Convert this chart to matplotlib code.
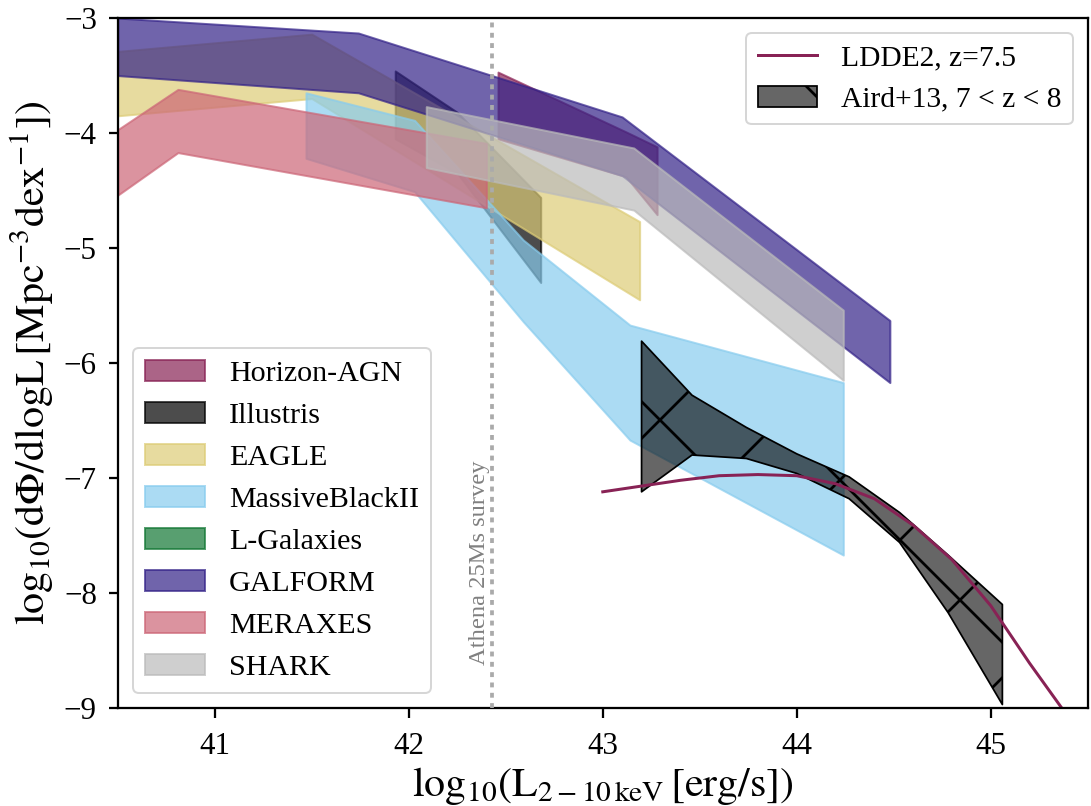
import numpy as np
import matplotlib.pyplot as plt
import matplotlib.patches as mpatches
from matplotlib.lines import Line2D

plt.rcParams['font.family'] = ['Liberation Serif', 'DejaVu Serif']
plt.rcParams['mathtext.fontset'] = 'stix'
plt.rcParams['hatch.linewidth'] = 0.55
plt.rcParams['axes.linewidth'] = 0.45

# ======== Model bands (log L, lower, upper) ========
models = ['Horizon-AGN', 'Illustris', 'EAGLE', 'MassiveBlackII',
          'L-Galaxies', 'GALFORM', 'MERAXES', 'SHARK']
colors = ['#882255', 'k', '#DDCC77', '#88CCEE',
          '#117733', '#332288', '#CC6677', '#BBBBBB']

hagn_x = [42.46, 43.12, 43.28]
hagn_lo = [-4.05, -4.38, -4.71]
hagn_hi = [-3.47, -3.99, -4.12]

illustris_x = [41.93, 42.25, 42.68]
illustris_lo = [-4.05, -4.35, -5.30]
illustris_hi = [-3.46, -3.82, -4.56]

eagle_x = [40.5, 41.5, 43.19]
eagle_lo = [-3.85, -3.70, -5.45]
eagle_hi = [-3.29, -3.14, -4.77]

mbii_x = [41.47, 42.03, 42.59, 43.14, 44.24]
mbii_lo = [-4.22, -4.51, -5.64, -6.67, -7.67]
mbii_hi = [-3.65, -3.89, -4.93, -5.67, -6.17]

# no L-Galaxies prediction at this redshift
lgal_x, lgal_lo, lgal_hi = [], [], []

galform_x = [40.5, 41.74, 43.1, 44.48]
galform_lo = [-3.50, -3.65, -4.37, -6.17]
galform_hi = [-3.00, -3.13, -3.86, -5.63]

meraxes_x = [40.5, 40.81, 42.4]
meraxes_lo = [-4.54, -4.17, -4.65]
meraxes_hi = [-3.97, -3.62, -4.09]

shark_x = [42.09, 43.16, 44.24]
shark_lo = [-4.30, -4.67, -6.15]
shark_hi = [-3.77, -4.13, -5.54]

bands = [(hagn_x, hagn_lo, hagn_hi), (illustris_x, illustris_lo, illustris_hi),
         (eagle_x, eagle_lo, eagle_hi), (mbii_x, mbii_lo, mbii_hi),
         (lgal_x, lgal_lo, lgal_hi), (galform_x, galform_lo, galform_hi),
         (meraxes_x, meraxes_lo, meraxes_hi), (shark_x, shark_lo, shark_hi)]

# ======== Observations ========
aird_x = [43.2, 43.46, 43.74, 44.0, 44.27, 44.53, 44.78, 45.06]
aird_lo = [-7.12, -6.80, -6.83, -6.96, -7.18, -7.56, -8.17, -8.97]
aird_hi = [-5.81, -6.28, -6.56, -6.79, -6.99, -7.30, -7.67, -8.10]

ldde_x = [43.0, 43.2, 43.4, 43.6, 43.8, 44.0, 44.2, 44.4, 44.6, 44.8, 45.0, 45.2, 45.4]
ldde_y = [-7.12, -7.07, -7.02, -6.98, -6.97, -6.98, -7.05, -7.18, -7.41, -7.71, -8.11, -8.61, -9.08]

athena_limit = 42.43

# ======== Plot ========
fig = plt.figure(figsize=(1091 / 360, 806 / 360), dpi=360)
ax = fig.add_axes([0.108, 0.1216, 0.889, 0.856])

for (bx, blo, bhi), c in zip(bands, colors):
    if len(bx) == 0:
        continue
    ax.fill_between(bx, blo, bhi, color=c, alpha=0.7, lw=0.4)

ax.plot(ldde_x, ldde_y, color='#882255', lw=0.6)
ax.fill_between(aird_x, aird_lo, aird_hi, facecolor=(0, 0, 0, 0.6),
                edgecolor='k', hatch='x', lw=0.35)

ax.axvline(athena_limit, color='#aaaaaa', lw=0.75, ls=(0, (1.3, 1.45)), zorder=5)
ax.text(athena_limit - 0.01, -8.63, 'Athena 25Ms survey', rotation=90,
        ha='right', va='bottom', color='gray', fontsize=4.9)

ax.set_xlim(40.5, 45.5)
ax.set_ylim(-9, -3)
ax.set_xticks([41, 42, 43, 44, 45])
ax.set_yticks([-9, -8, -7, -6, -5, -4, -3])
ax.tick_params(length=1.9, width=0.45, labelsize=6.2)
ax.tick_params(axis='x', pad=3.0)
ax.tick_params(axis='y', pad=2.3)

ax.set_xlabel(r'$\mathrm{log_{10}(L_{2-10\,keV}\,[erg/s])}$', fontsize=8.4, labelpad=0.8)
ax.set_ylabel(r'$\mathrm{log_{10}(d\Phi/dlogL\,[Mpc^{-3}dex^{-1}])}$', fontsize=8.4, labelpad=1.5)

# legends
model_handles = [mpatches.Patch(facecolor=c, edgecolor=c, alpha=0.7, lw=0.4) for c in colors]
leg1 = ax.legend(model_handles, models, loc='lower left', fontsize=6.0)
leg1.get_frame().set_linewidth(0.4)
ax.add_artist(leg1)

obs_handles = [Line2D([], [], color='#882255', lw=0.6),
               mpatches.Patch(facecolor=(0, 0, 0, 0.6), edgecolor='k', hatch='x', lw=0.35)]
leg2 = ax.legend(obs_handles, ['LDDE2, z=7.5', 'Aird+13, 7 < z < 8'],
                 loc='upper right', fontsize=5.9)
leg2.get_frame().set_linewidth(0.4)

fig.savefig('out.png', dpi=360)
